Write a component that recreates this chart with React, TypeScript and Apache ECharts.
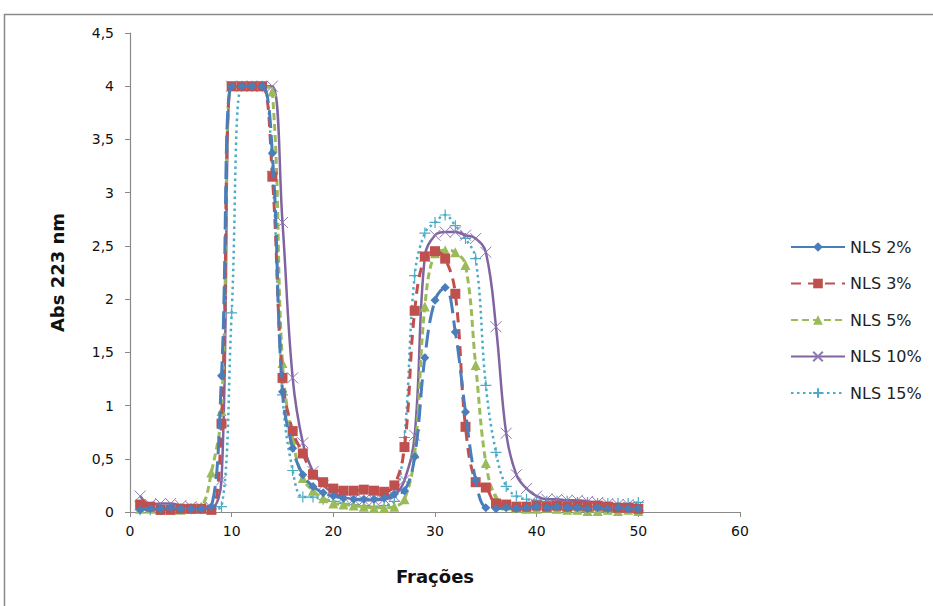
import React, { useEffect, useRef } from "react";
import * as echarts from "echarts";

const fractions = [1,2,3,4,5,6,7,8,9,10,11,12,13,14,15,16,17,18,19,20,21,22,23,24,25,26,27,28,29,30,31,32,33,34,35,36,37,38,39,40,41,42,43,44,45,46,47,48,49,50];

const nls2 = [0.02,0.03,0.03,0.04,0.03,0.03,0.03,0.05,1.28,4.0,4.0,4.0,4.0,3.37,1.13,0.6,0.35,0.24,0.18,0.15,0.13,0.12,0.12,0.12,0.13,0.17,0.2,0.52,1.45,1.99,2.11,1.69,0.94,0.3,0.04,0.03,0.04,0.03,0.04,0.05,0.04,0.05,0.04,0.04,0.03,0.04,0.03,0.04,0.03,0.03];
const nls3 = [0.07,0.05,0.02,0.02,0.03,0.03,0.03,0.02,0.83,4.0,4.0,4.0,4.0,3.15,1.26,0.76,0.55,0.35,0.28,0.22,0.2,0.2,0.21,0.2,0.19,0.25,0.61,1.89,2.4,2.45,2.38,2.05,0.8,0.28,0.23,0.08,0.07,0.05,0.05,0.06,0.05,0.06,0.05,0.06,0.05,0.06,0.05,0.04,0.04,0.03];
const nls5 = [0.03,0.03,0.02,0.03,0.02,0.03,0.05,0.37,0.95,4.0,4.0,4.0,4.0,3.95,1.4,0.68,0.32,0.2,0.13,0.08,0.07,0.06,0.05,0.04,0.04,0.05,0.12,0.55,1.93,2.43,2.46,2.44,2.32,1.38,0.46,0.13,0.06,0.04,0.03,0.03,0.04,0.03,0.02,0.02,0.01,0.01,0.02,0.01,0.02,0.01];
const nls10 = [0.15,0.07,0.08,0.08,0.06,0.05,0.04,0.04,0.3,4.0,4.0,4.0,4.0,4.0,2.72,1.26,0.65,0.38,0.25,0.18,0.14,0.12,0.11,0.11,0.12,0.15,0.3,0.72,2.4,2.6,2.63,2.63,2.6,2.57,2.44,1.74,0.74,0.35,0.22,0.15,0.12,0.12,0.11,0.11,0.1,0.09,0.08,0.07,0.07,0.06];
const nls15 = [0.02,0.02,0.02,0.03,0.03,0.03,0.03,0.03,0.05,1.87,4.0,4.0,4.0,3.2,1.1,0.39,0.14,0.14,0.12,0.1,0.08,0.07,0.06,0.05,0.06,0.1,0.7,2.22,2.62,2.72,2.79,2.69,2.57,2.38,1.19,0.56,0.24,0.15,0.12,0.11,0.1,0.1,0.1,0.09,0.09,0.08,0.08,0.08,0.08,0.09];

const seriesNames = ["NLS 2%", "NLS 3%", "NLS 5%", "NLS 10%", "NLS 15%"];
const xTicks = [0, 10, 20, 30, 40, 50, 60];
const yMax = 4.5;

const FONT = "DejaVu Sans";

function pairs(vals: number[]) {
  return fractions.map((f, i) => [f, vals[i]]);
}

export default function App() {
  const ref = useRef<HTMLDivElement>(null);
  useEffect(() => {
    if (!ref.current) return;
    const chart = echarts.init(ref.current, null, { renderer: "svg" });
    const common = { type: "line", smooth: 0.4, showSymbol: true };
    chart.setOption({
      animation: false,
      backgroundColor: "#ffffff",
      textStyle: { fontFamily: FONT },
      grid: { left: 130, right: 193, top: 33, bottom: 94 },
      graphic: [
        {
          type: "rect",
          shape: { x: 4.5, y: 14.5, width: 1000, height: 1000 },
          style: { fill: "none", stroke: "#8a8a8a", lineWidth: 1.5 },
          silent: true,
        },
      ],
      legend: {
        orient: "vertical",
        left: 785,
        top: 234,
        itemWidth: 54,
        itemHeight: 12,
        itemGap: 20.5,
        data: [
          { name: seriesNames[0], lineStyle: { type: "solid" } },
          { name: seriesNames[1] },
          { name: seriesNames[2] },
          { name: seriesNames[3] },
          { name: seriesNames[4] },
        ],
        textStyle: { fontFamily: FONT, fontSize: 16, color: "#222" },
      },
      xAxis: {
        type: "value",
        min: xTicks[0],
        max: xTicks[xTicks.length - 1],
        interval: 10,
        name: "Frações",
        nameLocation: "middle",
        nameGap: 55,
        nameTextStyle: { fontFamily: FONT, fontSize: 18, fontWeight: "bold", color: "#111" },
        axisLine: { lineStyle: { color: "#8a8a8a", width: 1.2 } },
        axisTick: { show: true, inside: false, length: 5, lineStyle: { color: "#8a8a8a" } },
        axisLabel: { fontFamily: FONT, fontSize: 14, color: "#111", margin: 12 },
        splitLine: { show: false },
      },
      yAxis: {
        type: "value",
        min: 0,
        max: yMax,
        interval: 0.5,
        name: "Abs 223 nm",
        nameLocation: "middle",
        nameGap: 64,
        nameTextStyle: { fontFamily: FONT, fontSize: 18, fontWeight: "bold", color: "#111" },
        axisLine: { show: true, lineStyle: { color: "#8a8a8a", width: 1.2 } },
        axisTick: { show: true, inside: false, length: 5, lineStyle: { color: "#8a8a8a" } },
        axisLabel: {
          fontFamily: FONT,
          fontSize: 14,
          color: "#111",
          margin: 16,
          formatter: (v: number) => String(v).replace(".", ","),
        },
        splitLine: { show: false },
      },
      series: [
        {
          ...common,
          name: seriesNames[0],
          data: pairs(nls2),
          symbol: "diamond",
          symbolSize: 9,
          itemStyle: { color: "#4a7ebb" },
          lineStyle: { color: "#4a7ebb", width: 3, type: [18, 7] },
          z: 5,
        },
        {
          ...common,
          name: seriesNames[1],
          data: pairs(nls3),
          symbol: "rect",
          symbolSize: 10,
          itemStyle: { color: "#c0504d" },
          lineStyle: { color: "#c0504d", width: 3, type: [10, 7] },
          z: 4,
        },
        {
          ...common,
          name: seriesNames[2],
          data: pairs(nls5),
          symbol: "triangle",
          symbolSize: 10,
          itemStyle: { color: "#9bbb59" },
          lineStyle: { color: "#9bbb59", width: 3, type: [7, 4] },
          z: 3,
        },
        {
          ...common,
          name: seriesNames[3],
          data: pairs(nls10),
          symbol: "path://M0,0L10,10M10,0L0,10",
          symbolSize: 11,
          itemStyle: { color: "#8064a2", borderColor: "#8e78b3", borderWidth: 1 },
          lineStyle: { color: "#8064a2", width: 2.5, type: "solid" },
          z: 2,
        },
        {
          ...common,
          name: seriesNames[4],
          data: pairs(nls15),
          symbol: "path://M5,0L5,10M0,5L10,5",
          symbolSize: 11,
          itemStyle: { color: "#4bacc6", borderColor: "#4bacc6", borderWidth: 1.2 },
          lineStyle: { color: "#4bacc6", width: 2.5, type: [2.5, 3.5], cap: "butt" },
          z: 1,
        },
      ],
    });
    return () => chart.dispose();
  }, []);
  return (
    <div
      ref={ref}
      style={{ position: "absolute", left: 0, top: 0, width: 933, height: 606, background: "#fff" }}
    />
  );
}
